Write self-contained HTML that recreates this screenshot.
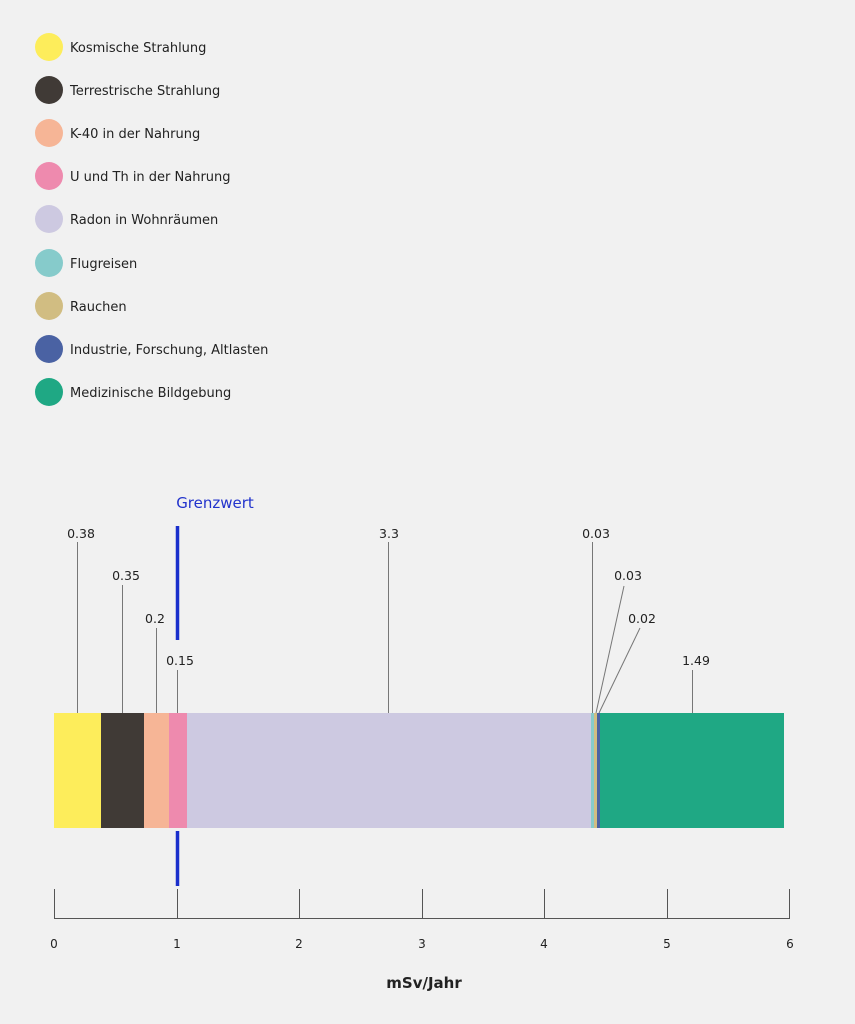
<!DOCTYPE html>
<html><head><meta charset="utf-8"><style>
html,body{margin:0;padding:0;background:#f1f1f1;}
svg{display:block;font-family:"DejaVu Sans","Liberation Sans",sans-serif;}
</style></head><body>
<svg width="855" height="1024" viewBox="0 0 855 1024" xmlns="http://www.w3.org/2000/svg">
<rect width="855" height="1024" fill="#f1f1f1"/>
<g font-size="13" fill="#222">
<circle cx="49" cy="47" r="14" fill="#fded5b"/><text x="70" y="52">Kosmische Strahlung</text>
<circle cx="49" cy="90" r="14" fill="#403a36"/><text x="70" y="95">Terrestrische Strahlung</text>
<circle cx="49" cy="133" r="14" fill="#f6b596"/><text x="70" y="138">K-40 in der Nahrung</text>
<circle cx="49" cy="176" r="14" fill="#ee8aae"/><text x="70" y="181">U und Th in der Nahrung</text>
<circle cx="49" cy="219" r="14" fill="#cdc9e1"/><text x="70" y="224">Radon in Wohnräumen</text>
<circle cx="49" cy="263" r="14" fill="#86cbcb"/><text x="70" y="268">Flugreisen</text>
<circle cx="49" cy="306" r="14" fill="#d1bd82"/><text x="70" y="311">Rauchen</text>
<circle cx="49" cy="349" r="14" fill="#4a62a3"/><text x="70" y="354">Industrie, Forschung, Altlasten</text>
<circle cx="49" cy="392" r="14" fill="#1fa884"/><text x="70" y="397">Medizinische Bildgebung</text>
</g>
<!-- bar -->
<rect x="54" y="713" width="47" height="115" fill="#fded5b"/>
<rect x="101" y="713" width="43" height="115" fill="#403a36"/>
<rect x="144" y="713" width="25" height="115" fill="#f6b596"/>
<rect x="169" y="713" width="18" height="115" fill="#ee8aae"/>
<rect x="187" y="713" width="404" height="115" fill="#cdc9e1"/>
<rect x="591" y="713" width="3" height="115" fill="#86cbcb"/>
<rect x="594" y="713" width="3" height="115" fill="#d1bd82"/>
<rect x="597" y="713" width="3" height="115" fill="#4a62a3"/>
<rect x="600" y="713" width="184" height="115" fill="#1fa884"/>
<!-- leader lines -->
<g stroke="#777" stroke-width="1">
<line x1="77.5" y1="542" x2="77.5" y2="713"/>
<line x1="122.5" y1="585" x2="122.5" y2="713"/>
<line x1="156.5" y1="628" x2="156.5" y2="713"/>
<line x1="177.5" y1="670" x2="177.5" y2="713"/>
<line x1="388.5" y1="542" x2="388.5" y2="713"/>
<line x1="592.5" y1="542" x2="592.5" y2="713"/>
<line x1="624" y1="586" x2="596" y2="713"/>
<line x1="640" y1="628" x2="599" y2="713"/>
<line x1="692.5" y1="670" x2="692.5" y2="713"/>
</g>
<g font-size="12.5" fill="#222" text-anchor="middle">
<text x="81" y="538">0.38</text>
<text x="126" y="580">0.35</text>
<text x="155" y="623">0.2</text>
<text x="180" y="665">0.15</text>
<text x="389" y="538">3.3</text>
<text x="596" y="538">0.03</text>
<text x="628" y="580">0.03</text>
<text x="642" y="623">0.02</text>
<text x="696" y="665">1.49</text>
</g>
<!-- Grenzwert -->
<text x="215" y="508" font-size="15" fill="#2233cc" text-anchor="middle">Grenzwert</text>
<line x1="177.5" y1="526" x2="177.5" y2="640" stroke="#1a2fcc" stroke-width="3.5"/>
<line x1="177.5" y1="831" x2="177.5" y2="886" stroke="#1a2fcc" stroke-width="3.5"/>
<!-- axis -->
<g stroke="#555" stroke-width="1">
<line x1="54" y1="918.5" x2="790" y2="918.5"/>
<line x1="54.5" y1="889" x2="54.5" y2="918"/>
<line x1="177.5" y1="889" x2="177.5" y2="918"/>
<line x1="299.5" y1="889" x2="299.5" y2="918"/>
<line x1="422.5" y1="889" x2="422.5" y2="918"/>
<line x1="544.5" y1="889" x2="544.5" y2="918"/>
<line x1="667.5" y1="889" x2="667.5" y2="918"/>
<line x1="789.5" y1="889" x2="789.5" y2="918"/>
</g>
<g font-size="12" fill="#222" text-anchor="middle">
<text x="54" y="948">0</text><text x="177" y="948">1</text><text x="299" y="948">2</text>
<text x="422" y="948">3</text><text x="544" y="948">4</text><text x="667" y="948">5</text><text x="790" y="948">6</text>
</g>
<text x="424" y="988" font-size="15" font-weight="bold" fill="#222" text-anchor="middle">mSv/Jahr</text>
</svg>
</body></html>
